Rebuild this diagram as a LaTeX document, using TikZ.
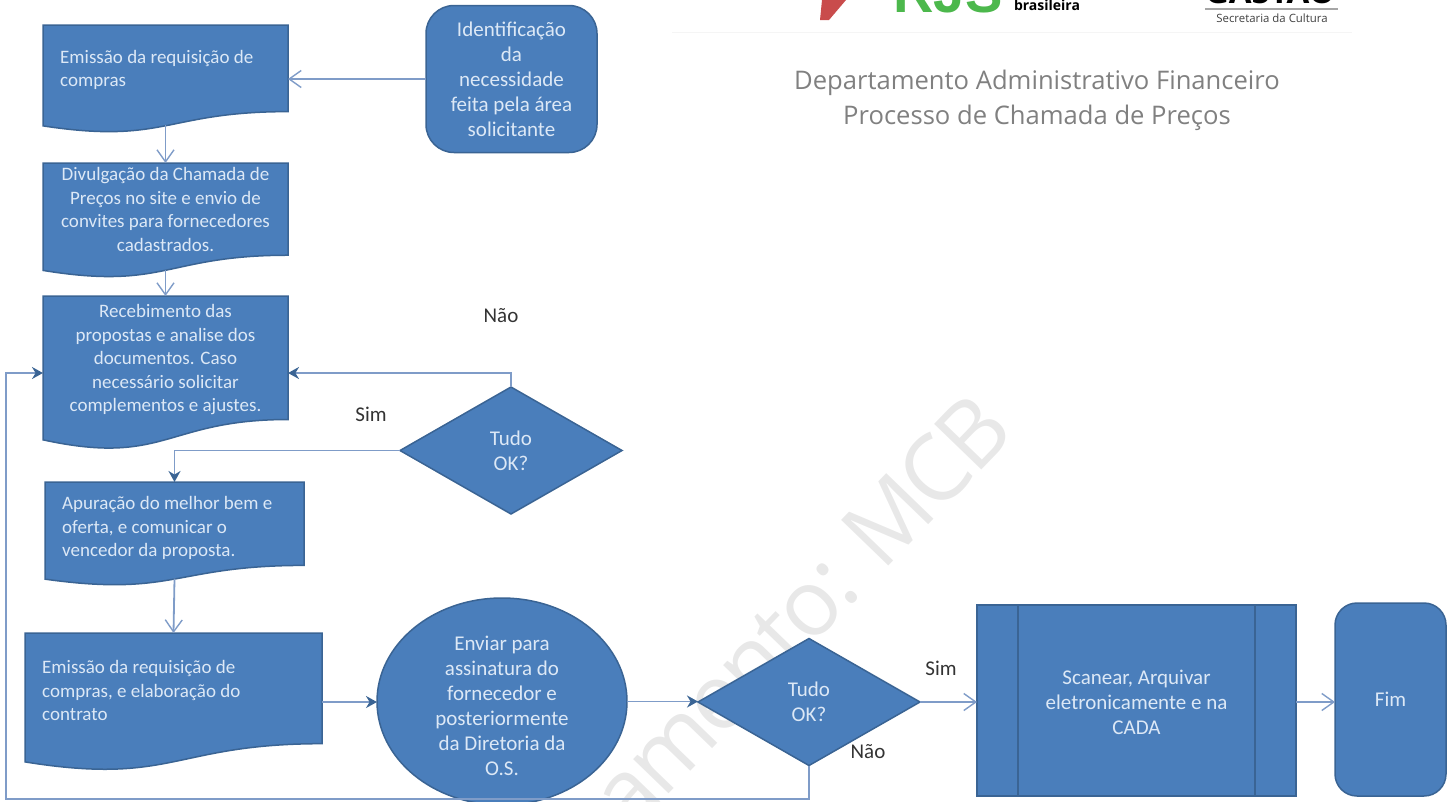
\documentclass[tikz,border=0pt]{standalone}
\usepackage{fontspec}
\setmainfont{Carlito}
\newfontfamily\titlefont{Open Sans}
\newfontfamily\logofont{Liberation Sans}
\usetikzlibrary{arrows.meta,calc,shapes.geometric}
\definecolor{boxblue}{HTML}{4A7EBB}
\definecolor{boxline}{HTML}{3A6494}
\definecolor{linkblue}{HTML}{7F9CC8}
\definecolor{boxtext}{HTML}{DCE8F6}
\tikzset{
	boxfont/.style={text=boxtext,font=\fontsize{19}{23.5}\selectfont,inner sep=0pt},
	bigfont/.style={font=\fontsize{21}{25}\selectfont},
	boxshape/.style={fill=boxblue,draw=boxline,line width=1.5pt},
	flowbox/.style={boxshape,boxfont,align=center,outer sep=0pt},
	plainlabel/.style={text=black!80,font=\fontsize{21}{24}\selectfont,inner sep=0pt},
	linkline/.style={draw=linkblue,line width=1.8pt},
	openlink/.style={linkline,-{Straight Barb[length=12pt,width=17pt,line width=1.4pt]}},
	filllink/.style={linkline,-{Stealth[length=11pt,width=12pt,color=boxline,fill=boxline]}},
}
% moldura do documento, depois o texto por cima
\newcommand{\docnode}[8]{%
	\node[minimum width=#4,minimum height=#5,inner sep=0pt,outer sep=0pt] (#1) at (#2,#3) {};
	\draw[boxshape] (#1.north west) -- (#1.north east) -- ($(#1.north east)!.802!(#1.south east)$)
		.. controls ($(#1.north)!.802!(#1.south)$) and ($(#1.north)!1.1075!(#1.south)$) ..
		($(#1.north west)!.934!(#1.south west)$) -- cycle;
	\coordinate (#1wave) at ($(#1.north)!.93!(#1.south)$);
	\node[boxfont,#6] (#1text) at (#7) {#8};
}
\begin{document}
\begin{tikzpicture}[x=1pt,y=-1pt]
	\useasboundingbox (0,0) rectangle (1453,801);
	\clip (0,0) rectangle (1453,801);
	% marca d'agua
	\node[rotate=46,text=black!9,font=\fontsize{92}{92}\selectfont\titlefont\addfontfeature{LetterSpace=-4},inner sep=0pt] (marca) at (800,611) {amento: MCB};
	% logos cortados no topo
	\fill[black!4] (672,32) rectangle (1352,33);
	\node[anchor=base,text=green!60!black!70,font=\fontsize{56}{56}\selectfont\bfseries\logofont,inner sep=0pt] (logorjs) at (948,12) {RJS};
	\fill[red!70!black!70] (822,0) -- (846,0) -- (829,20) -- (820,20) -- cycle;
	\node[font=\fontsize{14}{14}\selectfont\bfseries\titlefont,inner sep=0pt] (logobras) at (1047,5) {brasileira};
	\node[anchor=base,font=\fontsize{33}{33}\selectfont\bfseries\titlefont,inner sep=0pt] (logogast) at (1270,3) {GASTÃO};
	\fill[black!35] (1205,8) rectangle (1338,10);
	\node[text=black!75,font=\fontsize{11.4}{12}\selectfont\titlefont,inner sep=0pt] (logosec) at (1272,18) {Secretaria da Cultura};
	% titulo
	\node[text=black!50,font=\fontsize{25.6}{35}\selectfont\titlefont,align=center,inner sep=0pt] (titulo) at (1037,100) {Departamento Administrativo Financeiro\\Processo de Chamada de Preços};
	% caixas
	\docnode{emissao}{165.5}{79}{245pt}{108pt}{align=left,anchor=west}{60,70}{Emissão da requisição de\\compras}
	\docnode{divulga}{165.5}{220.5}{245pt}{115pt}{align=center}{165.5,209.5}{Divulgação da Chamada de\\Preços no site e envio de\\convites para fornecedores\\cadastrados.}
	\docnode{recebe}{165.5}{373}{245pt}{154pt}{align=center}{165.5,360}{Recebimento das\\propostas e analise dos\\documentos. Caso\\necessário solicitar\\complementos e ajustes.}
	\docnode{apura}{174.5}{534}{259pt}{104pt}{align=left,anchor=west}{62,528}{Apuração do melhor bem e\\oferta, e comunicar o\\vencedor da proposta.}
	\docnode{contrato}{173.5}{702}{297pt}{138pt}{align=left,anchor=west}{42,690.5}{Emissão da requisição de\\compras, e elaboração do\\contrato}
	\node[flowbox,bigfont,rounded corners=28pt,minimum width=171pt,minimum height=147pt] (identifica) at (511.5,79) {Identificação\\da\\necessidade\\feita pela área\\solicitante};
	\node[flowbox,bigfont,diamond,aspect=1.75,minimum width=222pt,minimum height=127pt] (tudook) at (511,450.5) {Tudo\\OK?};
	\node[flowbox,bigfont,ellipse,inner ysep=-14pt,inner xsep=-10pt,minimum width=250pt,minimum height=207pt] (assina) at (502,701.5) {\rule{0pt}{24pt}Enviar para\\assinatura do\\fornecedor e\\posteriormente\\da Diretoria da\\O.S.};
	\node[flowbox,bigfont,diamond,aspect=1.75,minimum width=222pt,minimum height=127pt] (tudookdois) at (809,702) {Tudo\\OK?};
	\node[flowbox,bigfont,minimum width=319pt,minimum height=191pt] (scanear) at (1136.5,700.5) {\rule{0pt}{19pt}Scanear, Arquivar\\eletronicamente e na\\CADA};
	\draw[boxline,line width=1.5pt] ([xshift=41pt]scanear.north west) -- ([xshift=41pt]scanear.south west);
	\draw[boxline,line width=1.5pt] ([xshift=-41pt]scanear.north east) -- ([xshift=-41pt]scanear.south east);
	\node[flowbox,bigfont,rounded corners=22pt,minimum width=111pt,minimum height=193pt] (fim) at (1390.5,699.5) {\raisebox{-2pt}{Fim}};
	% ligacoes
	\coordinate (volta) at (6,799);
	\draw[openlink] (identifica.west) -- (emissao.east);
	\draw[openlink] (emissaowave) -- (divulga.north);
	\draw[openlink] (divulgawave) -- (recebe.north);
	\draw[filllink] (tudook.north) |- (recebe.east);
	\draw[filllink] (tudook.west) -| (apura.north);
	\draw[openlink] (apurawave) -- (contrato.north);
	\draw[filllink] (contrato.east) -- (contrato.east -| assina.west);
	\draw[filllink] (assina.east) -- (assina.east -| tudookdois.west);
	\draw[openlink] (tudookdois.east) -- (tudookdois.east -| scanear.west);
	\draw[openlink] (scanear.east |- tudookdois.east) -- (tudookdois.east -| fim.west);
	\draw[filllink] (tudookdois.south) |- (volta) |- (recebe.west);
	% rotulos
	\node[plainlabel] (naoum) at (501,316) {Não};
	\node[plainlabel] (simum) at (371,414) {Sim};
	\node[plainlabel] (simdois) at (941,668) {Sim};
	\node[plainlabel] (naodois) at (868,752) {Não};
\end{tikzpicture}
\end{document}
